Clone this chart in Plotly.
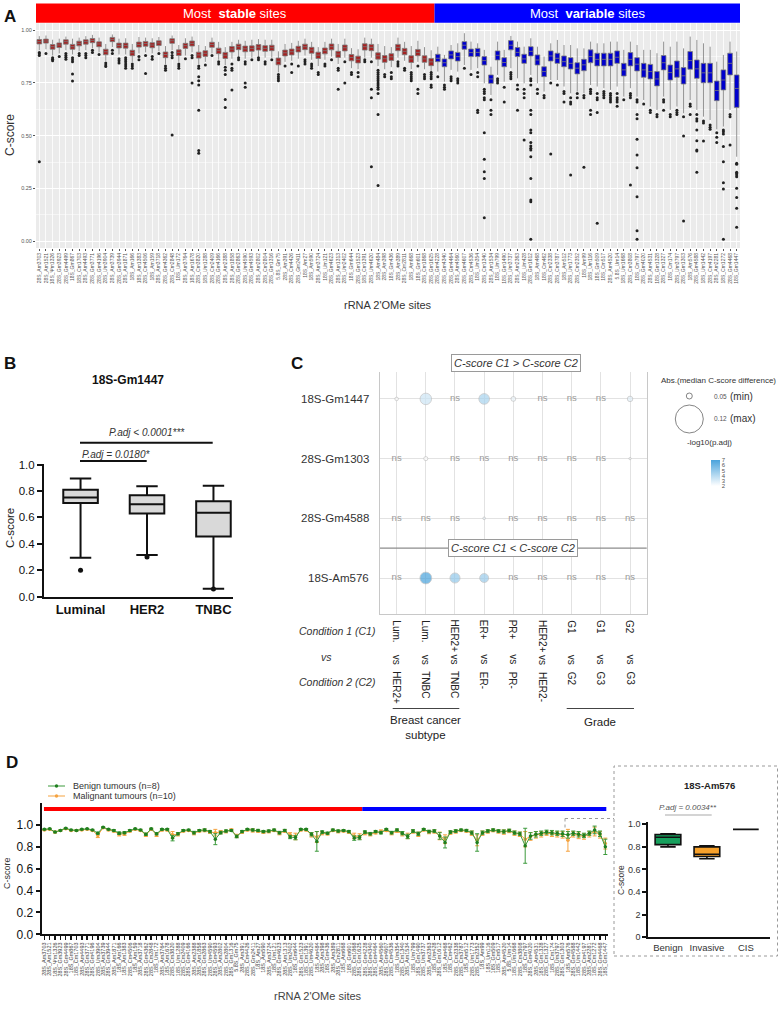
import plotly.graph_objects as go

W, H = 780, 1035
def PX(x): return x / W
def PY(y): return 1 - y / H
FONT = "Liberation Sans, Arial, sans-serif"

# ---------------- Panel A data ----------------
stable_sites = [
    "28S_Am3703", "28S_Am1521", "18S_Ψm1326", "28S_Gm3923", "28S_Gm4499", "18S_Gm867", "18S_Cm1703", "28S_Am4493", "28S_Gm3771", "28S_Gm4196",
    "28S_Um3904", "28S_Am3739", "28S_Gm3944", "28S_Am1871", "18S_Am166", "18S_Am1383", "28S_Cm4506", "18S_Am159", "28S_Am3718", "28S_Gm4362",
    "28S_Cm2848", "18S_Um172", "28S_Am3764", "18S_Am1678", "28S_Cm3820", "18S_Um1288", "28S_Cm2409", "28S_Gm4166", "28S_Am2388", "28S_Am1858",
    "28S_Gm2863", "28S_Um4590", "28S_Gm4593", "28S_Am2802", "28S_Cm2804", "28S_Gm1316", "5.8S_Gm75", "28S_Am391", "28S_Cm4426", "28S_Gm2411",
    "18S_Am27", "18S_Am590", "28S_Am3724", "18S_Um121", "28S_Gm4623", "28S_Am1313", "28S_Um2402", "18S_Gm644", "28S_Gm1523", "18S_Cm1391",
    "28S_Um4620", "18S_Am484", "28S_Am398", "18S_Gm436", "28S_Am389", "28S_Cm2811", "18S_Am668", "18S_Gm601", "28S_Cm1868", "28S_Gm1625"]
variable_sites = [
    "28S_Gm4228", "28S_Gm4340", "28S_Gm4464", "28S_Am4560", "28S_Gm4607", "28S_Cm4536", "18S_Um354", "28S_Cm1340", "28S_Am1534", "18S_Um799",
    "18S_Gm1490", "28S_Um3737", "28S_Am2363", "18S_Um428", "28S_Gm1612", "18S_Am468", "18S_Cm462", "28S_Cm2338", "28S_Cm3787", "18S_Am512",
    "28S_Um1773", "28S_Cm2352", "18S_Am99", "18S_Um116", "18S_Gm509", "18S_Cm517", "28S_Am4520", "5.8S_Um14", "18S_Um1668", "28S_Cm3808",
    "18S_Cm797", "28S_Gm4020", "28S_Am4531", "18S_Gm1328", "28S_Cm1327", "18S_Cm174", "28S_Um3797", "28S_Gm1303", "18S_Am576", "28S_Gm4588",
    "18S_Um1442", "28S_Cm4197", "28S_Am2281", "18S_Cm1272", "28S_Gm4468", "18S_Gm1447"]
sites = stable_sites + variable_sites

S_med = [0.946, 0.949, 0.922, 0.930, 0.946, 0.922, 0.938, 0.946, 0.952, 0.935,
         0.898, 0.957, 0.928, 0.928, 0.893, 0.933, 0.937, 0.930, 0.940, 0.885,
         0.950, 0.895, 0.927, 0.938, 0.883, 0.891, 0.932, 0.903, 0.882, 0.911,
         0.922, 0.912, 0.914, 0.920, 0.914, 0.917, 0.853, 0.893, 0.898, 0.911,
         0.922, 0.906, 0.882, 0.903, 0.922, 0.887, 0.917, 0.871, 0.862, 0.922,
         0.919, 0.879, 0.865, 0.874, 0.919, 0.900, 0.864, 0.895, 0.864, 0.850]
S_q3 = [0.956, 0.958, 0.932, 0.940, 0.955, 0.933, 0.948, 0.955, 0.961, 0.945,
        0.910, 0.966, 0.939, 0.939, 0.905, 0.944, 0.947, 0.941, 0.950, 0.897,
        0.960, 0.907, 0.938, 0.949, 0.896, 0.903, 0.943, 0.915, 0.895, 0.923,
        0.934, 0.925, 0.926, 0.932, 0.927, 0.929, 0.868, 0.906, 0.911, 0.924,
        0.934, 0.919, 0.896, 0.916, 0.935, 0.900, 0.930, 0.885, 0.877, 0.936,
        0.933, 0.893, 0.880, 0.889, 0.933, 0.914, 0.879, 0.909, 0.879, 0.866]
S_q1 = [0.935, 0.939, 0.910, 0.918, 0.934, 0.910, 0.926, 0.934, 0.941, 0.922,
        0.884, 0.946, 0.916, 0.915, 0.879, 0.920, 0.924, 0.917, 0.928, 0.870,
        0.938, 0.880, 0.914, 0.925, 0.868, 0.876, 0.919, 0.889, 0.866, 0.897,
        0.908, 0.898, 0.900, 0.906, 0.900, 0.903, 0.836, 0.878, 0.883, 0.897,
        0.908, 0.891, 0.866, 0.888, 0.907, 0.871, 0.902, 0.855, 0.845, 0.906,
        0.903, 0.863, 0.848, 0.857, 0.903, 0.884, 0.847, 0.879, 0.848, 0.832]
S_hi = [0.972, 0.975, 0.955, 0.960, 0.970, 0.960, 0.965, 0.972, 0.978, 0.965,
        0.935, 0.980, 0.960, 0.962, 0.935, 0.968, 0.965, 0.962, 0.968, 0.925,
        0.975, 0.930, 0.962, 0.970, 0.930, 0.925, 0.965, 0.945, 0.920, 0.945,
        0.955, 0.950, 0.955, 0.958, 0.955, 0.955, 0.900, 0.935, 0.940, 0.950,
        0.960, 0.945, 0.920, 0.945, 0.960, 0.935, 0.960, 0.915, 0.910, 0.965,
        0.960, 0.935, 0.925, 0.920, 0.965, 0.945, 0.925, 0.950, 0.920, 0.905]
S_lo = [0.905, 0.910, 0.880, 0.890, 0.905, 0.885, 0.900, 0.905, 0.915, 0.895,
        0.855, 0.920, 0.885, 0.885, 0.850, 0.890, 0.895, 0.890, 0.900, 0.840,
        0.905, 0.850, 0.880, 0.895, 0.840, 0.850, 0.890, 0.860, 0.835, 0.865,
        0.875, 0.865, 0.870, 0.875, 0.870, 0.870, 0.800, 0.850, 0.855, 0.865,
        0.880, 0.860, 0.830, 0.860, 0.875, 0.840, 0.870, 0.820, 0.815, 0.870,
        0.870, 0.830, 0.815, 0.825, 0.870, 0.855, 0.815, 0.850, 0.815, 0.800]
S_out = [[0.895, 0.888, 0.880, 0.376], [0.89], [0.87, 0.862, 0.855], [0.875], [0.89, 0.88, 0.872, 0.862],
         [0.87, 0.86, 0.85, 0.792, 0.759], [0.89, 0.88], [0.89, 0.88, 0.87], [0.905, 0.895], [0.885],
         [0.845, 0.835, 0.828], [0.905, 0.89], [0.865, 0.855, 0.845], [0.87, 0.86, 0.85, 0.84, 0.83, 0.82], [0.84, 0.83, 0.82],
         [0.875, 0.86], [0.88, 0.795], [0.875, 0.862], [0.89], [0.83, 0.82, 0.81],
         [0.895, 0.88, 0.87, 0.503], [0.84, 0.83, 0.82], [0.865], [0.88, 0.87, 0.75], [0.83, 0.82, 0.78, 0.76, 0.74, 0.62, 0.429, 0.416],
         [0.835], [0.88], [0.85, 0.84], [0.825, 0.81, 0.79, 0.672, 0.633], [0.84, 0.82, 0.81, 0.717],
         [0.87, 0.86], [0.85, 0.84, 0.75, 0.73], [0.86], [0.87, 0.86], [0.85, 0.84],
         [0.86], [0.79, 0.78, 0.77, 0.76], [0.83], [0.84, 0.80], [0.83],
         [0.86, 0.85, 0.84], [0.84, 0.83, 0.82], [0.80, 0.79], [0.84, 0.83], [0.86],
         [0.82, 0.81, 0.72], [0.85, 0.75], [0.80, 0.79], [0.80, 0.78], [0.86, 0.85],
         [0.85, 0.72, 0.68, 0.353], [0.81, 0.80, 0.79, 0.78, 0.77, 0.76, 0.75, 0.74, 0.73, 0.72, 0.70, 0.60, 0.264],
         [0.79, 0.78], [0.80, 0.78, 0.77], [0.85, 0.84, 0.83],
         [0.82, 0.81], [0.80, 0.79, 0.78, 0.77, 0.76], [0.83, 0.72, 0.70], [0.79, 0.78, 0.77], [0.80, 0.79, 0.78, 0.77, 0.74, 0.73]]

V_med = [0.867, 0.846, 0.883, 0.875, 0.929, 0.894, 0.895, 0.856, 0.769, 0.881,
         0.847, 0.929, 0.895, 0.864, 0.900, 0.859, 0.804, 0.878, 0.867, 0.851,
         0.843, 0.820, 0.836, 0.875, 0.862, 0.862, 0.862, 0.872, 0.812, 0.862,
         0.839, 0.812, 0.804, 0.769, 0.846, 0.799, 0.817, 0.784, 0.856, 0.817,
         0.798, 0.798, 0.714, 0.764, 0.843, 0.724]
V_q3 = [0.886, 0.864, 0.902, 0.895, 0.946, 0.911, 0.914, 0.875, 0.788, 0.902,
        0.870, 0.951, 0.918, 0.886, 0.922, 0.883, 0.827, 0.902, 0.891, 0.878,
        0.870, 0.846, 0.862, 0.907, 0.891, 0.891, 0.891, 0.902, 0.843, 0.894,
        0.870, 0.843, 0.838, 0.804, 0.880, 0.835, 0.854, 0.823, 0.899, 0.859,
        0.843, 0.843, 0.759, 0.812, 0.891, 0.788]
V_q1 = [0.851, 0.827, 0.864, 0.854, 0.910, 0.875, 0.875, 0.835, 0.748, 0.859,
        0.827, 0.907, 0.875, 0.843, 0.878, 0.835, 0.780, 0.854, 0.843, 0.827,
        0.816, 0.793, 0.808, 0.846, 0.831, 0.831, 0.831, 0.843, 0.783, 0.831,
        0.807, 0.777, 0.769, 0.736, 0.812, 0.764, 0.777, 0.745, 0.815, 0.772,
        0.751, 0.751, 0.666, 0.717, 0.788, 0.634]
V_hi = [0.922, 0.883, 0.930, 0.938, 0.986, 0.946, 0.938, 0.907, 0.827, 0.946,
        0.907, 0.973, 0.946, 0.922, 0.962, 0.922, 0.875, 0.938, 0.954, 0.930,
        0.930, 0.914, 0.914, 0.946, 0.938, 0.938, 0.946, 0.946, 0.907, 0.946,
        0.930, 0.907, 0.907, 0.891, 0.946, 0.922, 0.946, 0.914, 0.970, 0.954,
        0.938, 0.922, 0.851, 0.883, 0.946, 0.899]
V_lo = [0.804, 0.756, 0.812, 0.804, 0.835, 0.812, 0.820, 0.748, 0.693, 0.788,
        0.756, 0.820, 0.772, 0.748, 0.788, 0.748, 0.709, 0.764, 0.764, 0.733,
        0.701, 0.709, 0.701, 0.740, 0.733, 0.725, 0.717, 0.733, 0.685, 0.725,
        0.685, 0.669, 0.638, 0.622, 0.685, 0.622, 0.638, 0.606, 0.669, 0.622,
        0.590, 0.574, 0.530, 0.543, 0.622, 0.400]
V_out = [[0.78], [0.74, 0.73, 0.72], [0.78, 0.77, 0.76], [0.77, 0.76, 0.75], [0.82],
         [0.79], [0.80, 0.78, 0.62, 0.61], [0.72, 0.71, 0.70, 0.68, 0.67, 0.514, 0.388, 0.329, 0.297, 0.111], [0.67, 0.62, 0.60], [0.77, 0.76, 0.75],
         [0.73, 0.66], [0.80, 0.79, 0.78, 0.77], [0.74, 0.72, 0.62], [0.72, 0.70, 0.68, 0.479],
         [0.77, 0.76, 0.74, 0.62, 0.60, 0.527, 0.514, 0.468, 0.451, 0.440, 0.432, 0.400, 0.297, 0.195, 0.187, 0.008],
         [0.72, 0.70], [0.69, 0.68], [0.75, 0.413], [0.74], [0.71, 0.70, 0.66],
         [0.68, 0.66, 0.65, 0.313], [0.70, 0.68], [0.69, 0.68, 0.350], [0.72, 0.71, 0.70, 0.62, 0.60], [0.70, 0.68, 0.67, 0.61, 0.084],
         [0.71, 0.70, 0.69, 0.68], [0.70, 0.69, 0.68, 0.67, 0.66], [0.70, 0.68, 0.67, 0.66, 0.64], [0.67], [0.70, 0.69, 0.68, 0.266],
         [0.67, 0.66, 0.60, 0.58, 0.483, 0.408, 0.348, 0.210, 0.049, 0.008], [0.65], [0.62, 0.61], [0.60, 0.59], [0.67, 0.66, 0.62],
         [0.60, 0.59], [0.62, 0.61, 0.60], [0.59, 0.498, 0.095], [0.65, 0.64, 0.60], [0.60, 0.58, 0.57, 0.527, 0.476, 0.432, 0.427, 0.326],
         [0.57, 0.56, 0.475], [0.55, 0.54, 0.53], [0.514, 0.492, 0.467], [0.527, 0.519, 0.508, 0.448, 0.376, 0.277, 0.247, 0.008],
         [0.60, 0.59, 0.456], [0.369, 0.364, 0.326, 0.321, 0.313, 0.305, 0.250, 0.207, 0.155, 0.065]]

A_yticks = [0.0, 0.25, 0.5, 0.75, 1.0]
A_yticklabels = ["0.00", "0.25", "0.50", "0.75", "1.00"]

# ---------------- Panel B data ----------------
B_groups = ["Luminal", "HER2", "TNBC"]
B_low = [0.295, 0.315, 0.06]
B_q1 = [0.71, 0.63, 0.455]
B_med = [0.75, 0.70, 0.635]
B_q3 = [0.81, 0.768, 0.722]
B_high = [0.895, 0.835, 0.84]
B_out_group = ["Luminal", "HER2", "TNBC"]
B_out_val = [0.20, 0.30, 0.058]

# ---------------- Panel C data ----------------
C_rows = ["18S-Gm1447", "28S-Gm1303", "28S-Gm4588", "18S-Am576"]
C_cond1 = ["Lum.", "Lum.", "HER2+", "ER+", "PR+", "HER2+", "G1", "G1", "G2"]
C_cond2 = ["HER2+", "TNBC", "TNBC", "ER-", "PR-", "HER2-", "G2", "G3", "G3"]
C_diff = [[0.051, 0.108, None, 0.102, 0.060, None, None, None, 0.065],
          [None, 0.055, None, None, None, None, None, None, 0.042],
          [None, None, None, 0.045, None, None, None, None, None],
          [None, 0.110, 0.098, 0.090, None, None, None, None, None]]
C_logp = [[2.0, 3.4, None, 4.4, 2.5, None, None, None, 2.8],
          [None, 2.0, None, None, None, None, None, None, 2.2],
          [None, None, None, 2.6, None, None, None, None, None],
          [None, 7.0, 5.0, 4.8, None, None, None, None, None]]

# ---------------- Panel D data ----------------
D_benign = [0.960, 0.965, 0.935, 0.950, 0.970, 0.955, 0.950, 0.960, 0.965, 0.955,
            0.925, 0.980, 0.960, 0.950, 0.925, 0.930, 0.950, 0.965, 0.955, 0.915,
            0.965, 0.920, 0.960, 0.960, 0.880, 0.920, 0.950, 0.955, 0.930, 0.950,
            0.955, 0.940, 0.870, 0.930, 0.945, 0.950, 0.895, 0.940, 0.960, 0.955,
            0.950, 0.940, 0.945, 0.955, 0.930, 0.950, 0.890, 0.885, 0.960, 0.960,
            0.915, 0.850, 0.935, 0.925, 0.955, 0.945, 0.950, 0.940, 0.880, 0.885,
            0.935, 0.920, 0.940, 0.930, 0.960, 0.930, 0.955, 0.925, 0.895, 0.945,
            0.920, 0.960, 0.940, 0.945, 0.900, 0.840, 0.935, 0.945, 0.955, 0.950,
            0.930, 0.840, 0.930, 0.945, 0.955, 0.945, 0.940, 0.950, 0.930, 0.920,
            0.810, 0.900, 0.915, 0.925, 0.935, 0.930, 0.925, 0.920, 0.910, 0.925,
            0.915, 0.905, 0.925, 0.955, 0.920, 0.800]
D_malig = [0.955, 0.960, 0.935, 0.950, 0.965, 0.950, 0.950, 0.955, 0.960, 0.950,
           0.905, 0.975, 0.955, 0.945, 0.915, 0.920, 0.945, 0.960, 0.950, 0.910,
           0.960, 0.910, 0.955, 0.955, 0.910, 0.915, 0.945, 0.950, 0.925, 0.945,
           0.950, 0.935, 0.930, 0.935, 0.940, 0.955, 0.900, 0.935, 0.955, 0.950,
           0.945, 0.935, 0.940, 0.950, 0.925, 0.945, 0.910, 0.895, 0.955, 0.955,
           0.910, 0.890, 0.925, 0.920, 0.950, 0.940, 0.945, 0.935, 0.900, 0.895,
           0.925, 0.915, 0.930, 0.940, 0.950, 0.925, 0.945, 0.920, 0.900, 0.940,
           0.915, 0.955, 0.935, 0.940, 0.900, 0.870, 0.930, 0.940, 0.950, 0.945,
           0.925, 0.860, 0.925, 0.940, 0.950, 0.940, 0.935, 0.945, 0.925, 0.915,
           0.870, 0.895, 0.910, 0.915, 0.925, 0.920, 0.915, 0.910, 0.860, 0.915,
           0.905, 0.895, 0.915, 0.940, 0.910, 0.830]
D_benign_err = [0.005, 0.005, 0.006, 0.005, 0.004, 0.005, 0.005, 0.005, 0.004, 0.005,
                0.010, 0.004, 0.006, 0.008, 0.012, 0.010, 0.008, 0.005, 0.006, 0.010,
                0.006, 0.010, 0.008, 0.008, 0.025, 0.010, 0.008, 0.006, 0.012, 0.008,
                0.010, 0.010, 0.050, 0.012, 0.010, 0.008, 0.012, 0.010, 0.008, 0.010,
                0.010, 0.010, 0.010, 0.008, 0.012, 0.010, 0.015, 0.020, 0.008, 0.008,
                0.015, 0.090, 0.012, 0.010, 0.008, 0.010, 0.008, 0.010, 0.020, 0.020,
                0.012, 0.012, 0.010, 0.012, 0.008, 0.012, 0.010, 0.015, 0.020, 0.012,
                0.015, 0.008, 0.012, 0.012, 0.030, 0.050, 0.012, 0.012, 0.008, 0.010,
                0.015, 0.080, 0.015, 0.012, 0.010, 0.012, 0.015, 0.012, 0.015, 0.015,
                0.160, 0.030, 0.025, 0.020, 0.018, 0.020, 0.020, 0.025, 0.030, 0.020,
                0.025, 0.020, 0.020, 0.035, 0.025, 0.070]
D_malig_err = [0.006, 0.006, 0.008, 0.006, 0.005, 0.006, 0.006, 0.006, 0.005, 0.006,
               0.020, 0.006, 0.008, 0.010, 0.015, 0.015, 0.010, 0.006, 0.008, 0.015,
               0.008, 0.015, 0.010, 0.010, 0.030, 0.015, 0.010, 0.008, 0.015, 0.010,
               0.012, 0.012, 0.030, 0.015, 0.012, 0.010, 0.015, 0.012, 0.010, 0.015,
               0.012, 0.012, 0.012, 0.010, 0.015, 0.012, 0.020, 0.030, 0.010, 0.010,
               0.020, 0.050, 0.015, 0.012, 0.010, 0.012, 0.010, 0.012, 0.025, 0.025,
               0.015, 0.015, 0.012, 0.015, 0.010, 0.015, 0.012, 0.020, 0.025, 0.015,
               0.020, 0.010, 0.015, 0.015, 0.035, 0.040, 0.015, 0.015, 0.010, 0.012,
               0.020, 0.050, 0.020, 0.015, 0.012, 0.015, 0.020, 0.015, 0.020, 0.020,
               0.070, 0.035, 0.030, 0.025, 0.020, 0.025, 0.025, 0.030, 0.100, 0.025,
               0.030, 0.025, 0.025, 0.040, 0.030, 0.050]

# Inset (18S-Am576)
I_groups = ["Benign", "Invasive", "CIS"]
I_low = [0.800, 0.695, 0.955]
I_q1 = [0.820, 0.715, 0.955]
I_med = [0.885, 0.735, 0.955]
I_q3 = [0.910, 0.800, 0.955]
I_high = [0.915, 0.810, 0.955]
I_colors = ["#17a05d", "#f7a12b", "#ffffff"]
I_yticks = [0, 0.2, 0.4, 0.6, 0.8, 1.0]
I_yticklabels = ["0", "2", "0.4", "0.6", "0.8", "1.0"]

# ================= Figure =================
fig = go.Figure()
nS, N = len(stable_sites), len(sites)

# ---- A: boxes
fig.add_trace(go.Box(x=stable_sites, q1=S_q1, median=S_med, q3=S_q3, lowerfence=S_lo, upperfence=S_hi,
                     fillcolor="#a52222", line=dict(color="#7a7a7a", width=0.8), width=0.7, whiskerwidth=0,
                     boxpoints=False, xaxis="x", yaxis="y", hoverinfo="skip"))
fig.add_trace(go.Box(x=variable_sites, q1=V_q1, median=V_med, q3=V_q3, lowerfence=V_lo, upperfence=V_hi,
                     fillcolor="#0000cd", line=dict(color="#7a7a7a", width=0.8), width=0.7, whiskerwidth=0,
                     boxpoints=False, xaxis="x", yaxis="y", hoverinfo="skip"))
ox, oy = [], []
for name, vals in zip(sites, S_out + V_out):
    for v in vals:
        ox.append(name)
        oy.append(v)
fig.add_trace(go.Scatter(x=ox, y=oy, mode="markers", marker=dict(size=3, color="#222222"),
                         xaxis="x", yaxis="y", hoverinfo="skip"))

# ---- B: boxes
fig.add_trace(go.Box(x=B_groups, q1=B_q1, median=B_med, q3=B_q3, lowerfence=B_low, upperfence=B_high,
                     fillcolor="#d9d9d9", line=dict(color="#111111", width=2), width=0.52, whiskerwidth=0.62,
                     boxpoints=False, xaxis="x2", yaxis="y2", hoverinfo="skip"))
fig.add_trace(go.Scatter(x=B_out_group, y=B_out_val, mode="markers", marker=dict(size=5, color="#111111"),
                         xaxis="x2", yaxis="y2", hoverinfo="skip"))

# ---- C: bubbles
bx, by, bs, bc, nx, ny = [], [], [], [], [], []
for r, (drow, prow) in enumerate(zip(C_diff, C_logp)):
    yv = len(C_rows) - 1 - r
    for c, (d, p) in enumerate(zip(drow, prow)):
        if d is None:
            nx.append(c); ny.append(yv)
        else:
            bx.append(c); by.append(yv); bs.append(2 + (d - 0.04) * 140); bc.append(p)
fig.add_trace(go.Scatter(x=nx, y=ny, mode="text", text=["ns"] * len(nx),
                         textfont=dict(size=9.5, color="#9a9a9a"), xaxis="x3", yaxis="y3", hoverinfo="skip"))
fig.add_trace(go.Scatter(x=bx, y=by, mode="markers",
                         marker=dict(size=bs, color=bc, cmin=2, cmax=7,
                                     colorscale=[[0, "#ffffff"], [1, "#4aa3dc"]],
                                     line=dict(color="#b5b5b5", width=0.8),
                                     showscale=True,
                                     colorbar=dict(x=PX(701), xanchor="left", y=PY(450), yanchor="top",
                                                   len=46, lenmode="pixels", thickness=9, outlinewidth=0,
                                                   tickvals=[2, 3, 4, 5, 6, 7], ticks="",
                                                   tickfont=dict(size=6, color="#555555"))),
                         xaxis="x3", yaxis="y3", hoverinfo="skip"))

# ---- D: line chart
fig.add_trace(go.Scatter(x=sites, y=D_malig, mode="lines+markers",
                         line=dict(color="#f5a340", width=1), marker=dict(size=3.5, color="#f5a340"),
                         error_y=dict(type="data", array=D_malig_err, color="#f5a340", thickness=1, width=2),
                         xaxis="x4", yaxis="y4", hoverinfo="skip"))
fig.add_trace(go.Scatter(x=sites, y=D_benign, mode="lines+markers",
                         line=dict(color="#3c9a3c", width=1), marker=dict(size=3.5, color="#1f7f1f"),
                         error_y=dict(type="data", array=D_benign_err, color="#3c9a3c", thickness=1, width=2),
                         xaxis="x4", yaxis="y4", hoverinfo="skip"))

# ---- D inset boxes
for g, lo, q1, md, q3, hi, col in zip(I_groups, I_low, I_q1, I_med, I_q3, I_high, I_colors):
    fig.add_trace(go.Box(x=[g], q1=[q1], median=[md], q3=[q3], lowerfence=[lo], upperfence=[hi],
                         fillcolor=col, line=dict(color="#111111", width=1.6), width=0.66, whiskerwidth=0.6,
                         boxpoints=False, xaxis="x5", yaxis="y5", hoverinfo="skip"))

# ================= Layout =================
noline = dict(showline=False, zeroline=False, automargin=False)
layout = dict(
    width=W, height=H, margin=dict(l=0, r=0, t=0, b=0), template="none",
    paper_bgcolor="white", plot_bgcolor="white", showlegend=False, hovermode=False,
    font=dict(family=FONT, color="#222222"), boxmode="overlay",
    xaxis=dict(domain=[PX(36), PX(740)], anchor="y", type="category", categoryorder="array", categoryarray=sites,
               range=[-0.5, N - 0.5], tickmode="array", tickvals=sites, ticktext=sites, tickangle=-90,
               tickfont=dict(size=5, color="#555555"), ticks="outside", ticklen=2, tickcolor="#555555",
               showgrid=True, gridcolor="white", gridwidth=0.8, **noline),
    yaxis=dict(domain=[PY(248), PY(23.3)], anchor="x", range=[-0.033, 1.033], tickmode="array",
               tickvals=A_yticks, ticktext=A_yticklabels, tickfont=dict(size=5.5, color="#555555"),
               ticks="outside", ticklen=2, tickcolor="#555555", showgrid=True, gridcolor="white", gridwidth=1,
               minor=dict(tickvals=[0.125, 0.375, 0.625, 0.875], showgrid=True, gridcolor="white", gridwidth=0.5),
               **noline),
    xaxis2=dict(domain=[PX(44), PX(233.4)], anchor="y2", type="category", categoryorder="array",
                categoryarray=B_groups, range=[-0.55, 2.3], tickmode="array", tickvals=B_groups,
                ticktext=["<b>%s</b>" % g for g in B_groups], tickfont=dict(size=13, color="#111111"),
                ticks="", showgrid=False, showline=True, linecolor="#111111", linewidth=2,
                zeroline=False, automargin=False),
    yaxis2=dict(domain=[PY(596.7), PY(463.5)], anchor="x2", range=[0, 1.008], tickmode="array",
                tickvals=[0, 0.2, 0.4, 0.6, 0.8, 1.0], ticktext=["0.0", "0.2", "0.4", "0.6", "0.8", "1.0"],
                tickfont=dict(size=11.5, color="#111111"), ticks="outside", ticklen=5, tickwidth=2,
                tickcolor="#111111", showgrid=False, showline=True, linecolor="#111111", linewidth=2,
                zeroline=False, automargin=False),
    xaxis3=dict(domain=[PX(380), PX(646.7)], anchor="y3", range=[-0.57, 8.57], tickmode="array",
                tickvals=list(range(len(C_cond1))), showticklabels=False, ticks="", showgrid=True,
                gridcolor="#e2e2e2", gridwidth=1, showline=True, linecolor="#c8c8c8", linewidth=1,
                zeroline=False, automargin=False),
    yaxis3=dict(domain=[PY(614), PY(371.7)], anchor="x3", range=[-0.603, 3.456], tickmode="array",
                tickvals=[0, 1, 2, 3], showticklabels=False, ticks="", showgrid=True, gridcolor="#e2e2e2",
                gridwidth=1, showline=True, mirror=True, linecolor="#c8c8c8", linewidth=1,
                zeroline=False, automargin=False),
    xaxis4=dict(domain=[PX(41.7), PX(608)], anchor="y4", type="category", categoryorder="array",
                categoryarray=sites, range=[-0.5, N - 0.5], tickmode="array", tickvals=sites, ticktext=sites,
                tickangle=-90, tickfont=dict(size=5.5, color="#444444"), ticks="outside", ticklen=4,
                tickwidth=1.5, tickcolor="#111111", showgrid=False, showline=True, linecolor="#111111",
                linewidth=2, zeroline=False, automargin=False),
    yaxis4=dict(domain=[PY(934.3), PY(802.7)], anchor="x4", range=[0, 1.204], tickmode="array",
                tickvals=[0, 0.2, 0.4, 0.6, 0.8, 1.0], ticktext=["0.0", "0.2", "0.4", "0.6", "0.8", "1.0"],
                tickfont=dict(size=12, color="#111111"), ticks="outside", ticklen=4, tickwidth=2,
                tickcolor="#111111", showgrid=False, showline=True, linecolor="#111111", linewidth=2,
                zeroline=False, automargin=False),
    xaxis5=dict(domain=[PX(648.3), PX(770)], anchor="y5", type="category", categoryorder="array",
                categoryarray=I_groups, range=[-0.505, 2.62], tickmode="array", tickvals=I_groups,
                tickfont=dict(size=9.5, color="#333333"), ticks="", showgrid=False, showline=True,
                linecolor="#111111", linewidth=2, zeroline=False, automargin=False),
    yaxis5=dict(domain=[PY(937.3), PY(822)], anchor="x5", range=[0, 1.02], tickmode="array",
                tickvals=I_yticks, ticktext=I_yticklabels, tickfont=dict(size=9, color="#333333"),
                ticks="outside", ticklen=4, tickwidth=2, tickcolor="#111111", showgrid=False, showline=True,
                linecolor="#111111", linewidth=2, zeroline=False, automargin=False),
)
fig.update_layout(**layout)

shapes = []
ann = []
def text(x, y, t, size=11, color="#222222", xanchor="center", yanchor="middle", angle=0, **kw):
    ann.append(dict(x=PX(x), y=PY(y), xref="paper", yref="paper", text=t, showarrow=False,
                    font=dict(size=size, color=color), xanchor=xanchor, yanchor=yanchor, textangle=angle, **kw))
def line(x0, y0, x1, y1, color="#111111", width=1, dash=None):
    shapes.append(dict(type="line", xref="paper", yref="paper", x0=PX(x0), y0=PY(y0), x1=PX(x1), y1=PY(y1),
                       line=dict(color=color, width=width, dash=dash)))

# ---- A decorations
split_px = 36 + (740 - 36) * nS / N
shapes.append(dict(type="rect", xref="x domain", yref="y domain", x0=0, x1=1, y0=0, y1=1,
                   fillcolor="#ebebeb", line=dict(width=0), layer="below"))
shapes.append(dict(type="rect", xref="paper", yref="paper", x0=PX(36), x1=PX(split_px), y0=PY(22.8), y1=PY(3.6),
                   fillcolor="#ff0000", line=dict(width=0)))
shapes.append(dict(type="rect", xref="paper", yref="paper", x0=PX(split_px), x1=PX(740), y0=PY(22.8), y1=PY(3.6),
                   fillcolor="#0000ff", line=dict(width=0)))
text((36 + split_px) / 2, 13.2, "Most  <b>stable</b> sites", size=13, color="white")
text((740 + split_px) / 2, 13.2, "Most  <b>variable</b> sites", size=13, color="white")
text(10, 16.5, "<b>A</b>", size=17, color="#111111")
text(10, 135, "C-score", size=12, color="#333333", angle=-90)
text(388, 305, "rRNA 2'OMe sites", size=11, color="#333333")

# ---- B decorations
text(10, 363, "<b>B</b>", size=17, color="#111111")
text(128, 380, "<b>18S-Gm1447</b>", size=12, color="#111111")
text(10, 528, "C-score", size=11.5, color="#222222", angle=-90)
text(147, 432.5, "<i>P.adj &lt; 0.0001***</i>", size=10, color="#333333")
line(80, 442.7, 212.7, 442.7, width=2)
text(115.5, 455, "<i>P.adj = 0.0180*</i>", size=10, color="#333333")
line(80, 461, 146.7, 461, width=2)

# ---- C decorations
text(296.7, 363, "<b>C</b>", size=17, color="#111111")
for r, name in enumerate(C_rows):
    ann.append(dict(x=PX(371), y=len(C_rows) - 1 - r, xref="paper", yref="y3", text=name, showarrow=False,
                    xanchor="right", yanchor="middle", font=dict(size=11.5, color="#333333")))
shapes.append(dict(type="line", xref="x3 domain", yref="y3", x0=0, x1=1, y0=0.5, y1=0.5,
                   line=dict(color="#8c8c8c", width=1.2)))
text(516, 363, "<i>C-score C1 &gt; C-score C2</i>", size=11, color="#333333",
     bgcolor="white", bordercolor="#9a9a9a", borderwidth=1, borderpad=2)
text(513, 548, "<i>C-score C1 &lt; C-score C2</i>", size=11, color="#333333",
     bgcolor="white", bordercolor="#9a9a9a", borderwidth=1, borderpad=2)
for c, (c1, c2) in enumerate(zip(C_cond1, C_cond2)):
    ann.append(dict(x=c, y=PY(618), xref="x3", yref="paper", text=c1, showarrow=False, textangle=90,
                    xanchor="center", yanchor="top", font=dict(size=10, color="#222222")))
    ann.append(dict(x=c, y=PY(659.5), xref="x3", yref="paper", text="vs", showarrow=False, textangle=90,
                    xanchor="center", yanchor="middle", font=dict(size=10, color="#222222")))
    ann.append(dict(x=c, y=PY(669.5), xref="x3", yref="paper", text=c2, showarrow=False, textangle=90,
                    xanchor="center", yanchor="top", font=dict(size=10, color="#222222")))
text(376.5, 631, "<i>Condition 1 (C1)</i>", size=10.5, color="#333333", xanchor="right")
text(326.7, 657, "<i>vs</i>", size=10.5, color="#333333")
text(376.5, 682, "<i>Condition 2 (C2)</i>", size=10.5, color="#333333", xanchor="right")
line(392.7, 708.5, 459.3, 708.5, color="#444444", width=1.2)
line(566.7, 708.5, 634, 708.5, color="#444444", width=1.2)
text(425.7, 727, "Breast cancer<br>subtype", size=11.5, color="#222222")
text(600, 722, "Grade", size=11.5, color="#222222")
# C legend
text(659, 381, "Abs.(median C-score difference)", size=8, color="#333333", xanchor="left")
for cy, r, lab, mm in [(396, 3, "0.05", "(min)"), (419, 14, "0.12", "(max)")]:
    shapes.append(dict(type="circle", xref="paper", yref="paper", x0=PX(689.3 - r), x1=PX(689.3 + r),
                       y0=PY(cy + r), y1=PY(cy - r), line=dict(color="#666666", width=0.8)))
    text(711.5, cy, lab, size=6.5, color="#555555", xanchor="left")
    text(727.5, cy, mm, size=10, color="#333333", xanchor="left")
text(709, 442, "-log10(p.adj)", size=8, color="#333333")

# ---- D decorations
text(12, 762, "<b>D</b>", size=17, color="#111111")
shapes.append(dict(type="rect", xref="x4 domain", yref="paper", x0=0.004, x1=nS / N, y0=PY(811), y1=PY(807),
                   fillcolor="#ff0000", line=dict(width=0)))
shapes.append(dict(type="rect", xref="x4 domain", yref="paper", x0=nS / N, x1=0.997, y0=PY(811), y1=PY(807),
                   fillcolor="#0000ff", line=dict(width=0)))
line(48, 786, 65, 786, color="#3c9a3c", width=1)
shapes.append(dict(type="circle", xref="paper", yref="paper", x0=PX(54.8), x1=PX(58.2), y0=PY(787.7),
                   y1=PY(784.3), fillcolor="#1f7f1f", line=dict(width=0)))
text(70.5, 786, "Benign tumours (n=8)", size=9, color="#333333", xanchor="left")
line(48, 796, 65, 796, color="#f5a340", width=1)
shapes.append(dict(type="circle", xref="paper", yref="paper", x0=PX(54.8), x1=PX(58.2), y0=PY(797.7),
                   y1=PY(794.3), fillcolor="#f5a340", line=dict(width=0)))
text(70.5, 796, "Malignant tumours (n=10)", size=9, color="#333333", xanchor="left")
text(7, 873, "C-score", size=9, color="#333333", angle=-90)
text(318, 996, "rRNA 2'OMe sites", size=11, color="#444444")
# inset
shapes.append(dict(type="rect", xref="paper", yref="paper", x0=PX(614), x1=PX(777.5), y0=PY(956), y1=PY(766),
                   line=dict(color="#9a9a9a", width=1, dash="dot")))
line(565, 818.5, 614, 818.5, color="#9a9a9a", dash="dot")
line(565, 818.5, 565, 830, color="#9a9a9a", dash="dot")
text(709.3, 785, "<b>18S-Am576</b>", size=9.5, color="#222222")
text(688, 807, "<i>P.adj = 0.0034**</i>", size=8, color="#555555")
line(665, 815, 711.7, 815, color="#aaaaaa", width=1.2)
text(621, 880, "C-score", size=8.5, color="#333333", angle=-90)

fig.update_layout(shapes=shapes, annotations=ann)
fig.write_html("out.html", config={"displayModeBar": False, "staticPlot": True},
               post_script="document.body.style.margin='0px';document.body.style.padding='0px';")
